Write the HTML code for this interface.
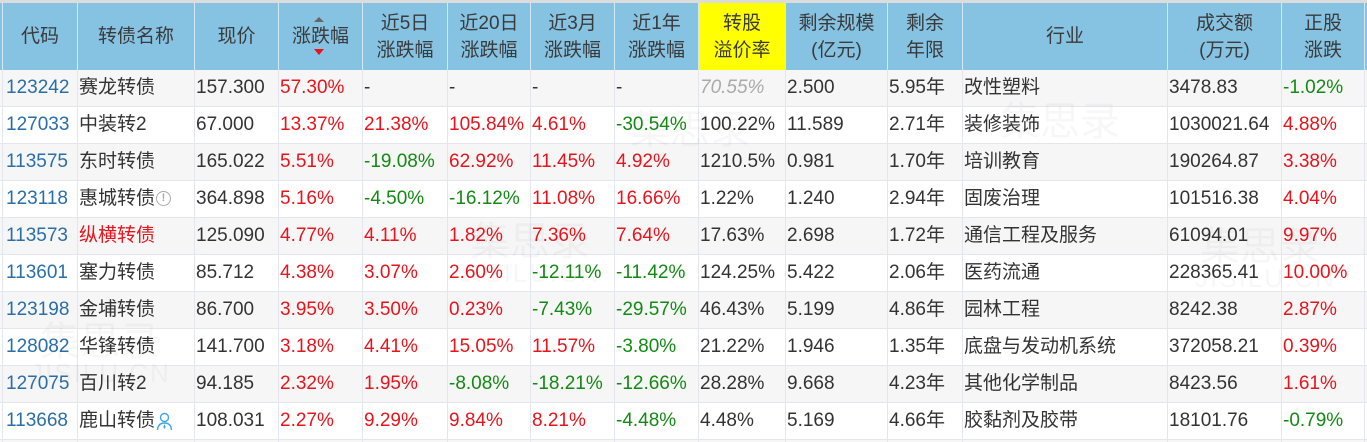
<!DOCTYPE html>
<html><head><meta charset="utf-8"><style>
html,body{margin:0;padding:0;overflow:hidden;width:1367px;height:442px}
body{background:#fff;font-family:"Liberation Sans","Noto Sans CJK SC",sans-serif;font-size:19px;color:#333}
#wrap{position:relative;width:1367px;height:442px;overflow:hidden}
.top{position:absolute;left:0;top:0;width:1367px;height:3px;background:#dcdcdc}
.row{position:absolute;left:0;width:1367px;height:37px;box-sizing:border-box;border-bottom:1px solid #e3e6ef;display:flex;padding-left:2px}
.row>div{box-sizing:border-box;border-right:1px solid #e3e6ef;height:100%;display:flex;align-items:center;padding-left:1px;white-space:nowrap;flex:none;overflow:hidden;line-height:22px}
.row>div:first-child{border-left:1px solid #e3e6ef;padding-left:3px;color:#2a6ea8}
.row>div:nth-child(1){width:76px}.row>div:nth-child(2){width:117px}.row>div:nth-child(3){width:84px}.row>div:nth-child(4){width:84px}.row>div:nth-child(5){width:85px}.row>div:nth-child(6){width:83px}.row>div:nth-child(7){width:84px}.row>div:nth-child(8){width:84px}.row>div:nth-child(9){width:87px}.row>div:nth-child(10){width:102px}.row>div:nth-child(11){width:75px}.row>div:nth-child(12){width:205px}.row>div:nth-child(13){width:114px}.row>div:nth-child(14){width:83px}.row>div:nth-child(15){width:80px}
.g{background:#f6f6f6}
.hd{top:3px;height:67px;background:#86c3e3;border-bottom:none}
.hd>div{border-right:1px solid #d3e8f5!important;justify-content:center;text-align:center;line-height:27px!important;color:#3a3a3a!important;padding-left:0!important;position:relative}
.hd>div:first-child{border-left:1px solid #d3e8f5!important}
.hd .y{background:#ffff00}
.r{color:#e8141c}.gr{color:#138a13}
.it{color:#aaa;font-style:italic}
.up{position:absolute;left:35px;top:14px;width:0;height:0;border-left:5px solid transparent;border-right:5px solid transparent;border-bottom:5px solid #666}
.dn{position:absolute;left:35px;top:46px;width:0;height:0;border-left:5px solid transparent;border-right:5px solid transparent;border-top:6px solid #e8141c}
.info{display:inline-block;width:13px;height:13px;border:1.5px solid #aaa;border-radius:50%;color:#aaa;font-size:11px;font-weight:bold;line-height:13px;text-align:center;margin-left:1px;margin-top:-2px}
.wm{position:absolute;color:rgba(0,0,0,0.03);font-size:40px;line-height:44px;white-space:nowrap;z-index:5;pointer-events:none}
.wm2{position:absolute;color:rgba(0,0,0,0.03);font-size:26px;line-height:30px;white-space:nowrap;z-index:5;letter-spacing:2px}
</style></head><body><div id="wrap">
<div class="top"></div>
<div class="row hd">
<div>代码</div><div>转债名称</div><div>现价</div><div><span class="up"></span>涨跌幅<span class="dn"></span></div><div>近5日<br>涨跌幅</div><div>近20日<br>涨跌幅</div><div>近3月<br>涨跌幅</div><div>近1年<br>涨跌幅</div><div class="y">转股<br>溢价率</div><div>剩余规模<br>(亿元)</div><div>剩余<br>年限</div><div>行业</div><div>成交额<br>(万元)</div><div>正股<br>涨跌</div><div></div>
</div>

<div class="row g" style="top:70px"><div>123242</div><div>赛龙转债</div><div>157.300</div><div class="r">57.30%</div><div>-</div><div>-</div><div>-</div><div>-</div><div class="it">70.55%</div><div>2.500</div><div>5.95年</div><div>改性塑料</div><div>3478.83</div><div class="gr">-1.02%</div><div></div></div>

<div class="row" style="top:107px"><div>127033</div><div>中装转2</div><div>67.000</div><div class="r">13.37%</div><div class="r">21.38%</div><div class="r">105.84%</div><div class="r">4.61%</div><div class="gr">-30.54%</div><div>100.22%</div><div>11.589</div><div>2.71年</div><div>装修装饰</div><div>1030021.64</div><div class="r">4.88%</div><div></div></div>

<div class="row g" style="top:144px"><div>113575</div><div>东时转债</div><div>165.022</div><div class="r">5.51%</div><div class="gr">-19.08%</div><div class="r">62.92%</div><div class="r">11.45%</div><div class="r">4.92%</div><div>1210.5%</div><div>0.981</div><div>1.70年</div><div>培训教育</div><div>190264.87</div><div class="r">3.38%</div><div></div></div>

<div class="row" style="top:181px"><div>123118</div><div>惠城转债<span class="info">!</span></div><div>364.898</div><div class="r">5.16%</div><div class="gr">-4.50%</div><div class="gr">-16.12%</div><div class="r">11.08%</div><div class="r">16.66%</div><div>1.22%</div><div>1.240</div><div>2.94年</div><div>固废治理</div><div>101516.38</div><div class="r">4.04%</div><div></div></div>

<div class="row g" style="top:218px"><div>113573</div><div class="r">纵横转债</div><div>125.090</div><div class="r">4.77%</div><div class="r">4.11%</div><div class="r">1.82%</div><div class="r">7.36%</div><div class="r">7.64%</div><div>17.63%</div><div>2.698</div><div>1.72年</div><div>通信工程及服务</div><div>61094.01</div><div class="r">9.97%</div><div></div></div>

<div class="row" style="top:255px"><div>113601</div><div>塞力转债</div><div>85.712</div><div class="r">4.38%</div><div class="r">3.07%</div><div class="r">2.60%</div><div class="gr">-12.11%</div><div class="gr">-11.42%</div><div>124.25%</div><div>5.422</div><div>2.06年</div><div>医药流通</div><div>228365.41</div><div class="r">10.00%</div><div></div></div>

<div class="row g" style="top:292px"><div>123198</div><div>金埔转债</div><div>86.700</div><div class="r">3.95%</div><div class="r">3.50%</div><div class="r">0.23%</div><div class="gr">-7.43%</div><div class="gr">-29.57%</div><div>46.43%</div><div>5.199</div><div>4.86年</div><div>园林工程</div><div>8242.38</div><div class="r">2.87%</div><div></div></div>

<div class="row" style="top:329px"><div>128082</div><div>华锋转债</div><div>141.700</div><div class="r">3.18%</div><div class="r">4.41%</div><div class="r">15.05%</div><div class="r">11.57%</div><div class="gr">-3.80%</div><div>21.22%</div><div>1.946</div><div>1.35年</div><div>底盘与发动机系统</div><div>372058.21</div><div class="r">0.39%</div><div></div></div>

<div class="row g" style="top:366px"><div>127075</div><div>百川转2</div><div>94.185</div><div class="r">2.32%</div><div class="r">1.95%</div><div class="gr">-8.08%</div><div class="gr">-18.21%</div><div class="gr">-12.66%</div><div>28.28%</div><div>9.668</div><div>4.23年</div><div>其他化学制品</div><div>8423.56</div><div class="r">1.61%</div><div></div></div>

<div class="row" style="top:403px"><div>113668</div><div>鹿山转债<svg width="17" height="19" viewBox="0 0 17 19" style="margin-left:1px"><circle cx="8.5" cy="5.5" r="4" fill="none" stroke="#3ea6e8" stroke-width="1.4"/><path d="M1.5 18 Q2 11 8.5 11 Q15 11 15.5 18" fill="none" stroke="#3ea6e8" stroke-width="1.4"/><path d="M8.5 12 L7.3 15 L8.5 17 L9.7 15 Z" fill="#3ea6e8"/></svg></div><div>108.031</div><div class="r">2.27%</div><div class="r">9.29%</div><div class="r">9.84%</div><div class="r">8.21%</div><div class="gr">-4.48%</div><div>4.48%</div><div>5.169</div><div>4.66年</div><div>胶黏剂及胶带</div><div>18101.76</div><div class="gr">-0.79%</div><div></div></div>

<div class="row g" style="top:440px;height:2px;border-bottom:none"><div></div><div></div><div></div><div></div><div></div><div></div><div></div><div></div><div></div><div></div><div></div><div></div><div></div><div></div><div></div></div>

<div class="wm" style="left:630px;top:108px">集思录</div>
<div class="wm" style="left:1000px;top:100px">集思录</div>
<div class="wm2" style="left:460px;top:258px">JISILU.CN</div>
<div class="wm" style="left:470px;top:220px">集思录</div>
<div class="wm" style="left:1200px;top:225px">集思录</div>
<div class="wm2" style="left:1195px;top:263px">JISILU.CN</div>
<div class="wm" style="left:40px;top:320px">集思录</div>
<div class="wm2" style="left:30px;top:358px">JISILU.CN</div>
</div></body></html>
